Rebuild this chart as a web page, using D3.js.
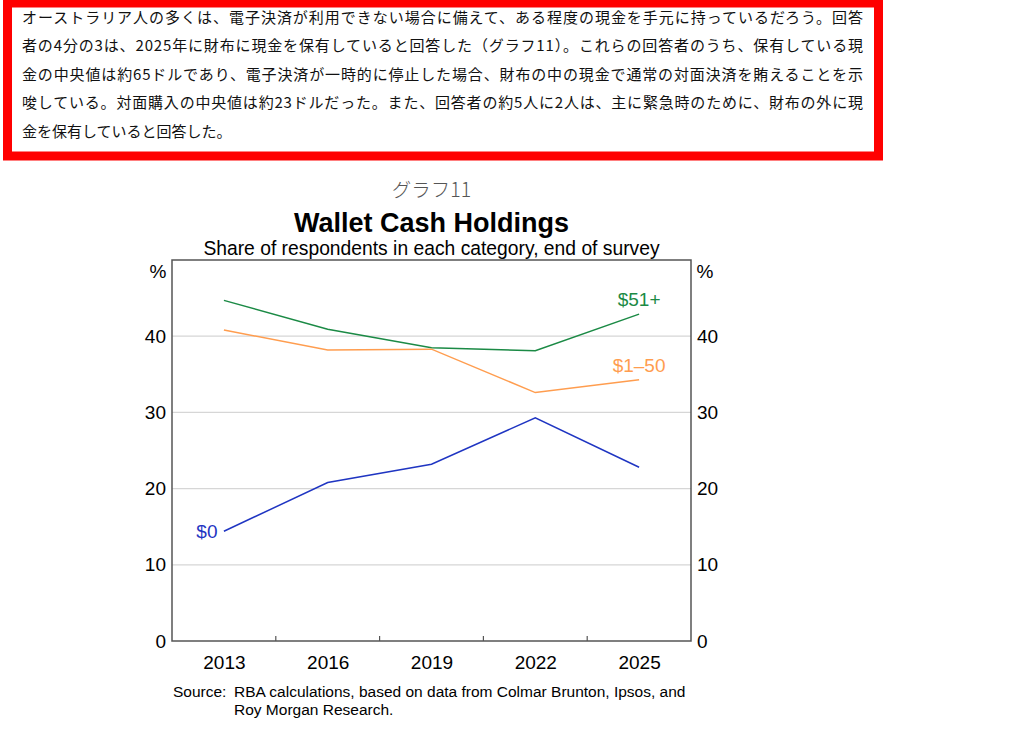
<!DOCTYPE html>
<html lang="ja">
    <head>
        <meta charset="UTF-8" />
        <title>Wallet Cash Holdings</title>
        <script src="https://d3js.org/d3.v7.min.js"></script>
        <style>
            body {
                margin: 0;
                background: #fff;
            }
            svg text {
                font-family: 'Liberation Sans', Arial, sans-serif;
            }
            .jp {
                font-family: 'Noto Sans CJK JP', sans-serif !important;
            }
        </style>
    </head>
    <body>
        <svg width="1024" height="729"></svg>

        <script>
            // intro paragraph, one entry per printed line
            const introLines = [
                'オーストラリア人の多くは、電子決済が利用できない場合に備えて、ある程度の現金を手元に持っているだろう。回答',
                '者の4分の3は、2025年に財布に現金を保有していると回答した（グラフ11）。これらの回答者のうち、保有している現',
                '金の中央値は約65ドルであり、電子決済が一時的に停止した場合、財布の中の現金で通常の対面決済を賄えることを示',
                '唆している。対面購入の中央値は約23ドルだった。また、回答者の約5人に2人は、主に緊急時のために、財布の外に現',
                '金を保有していると回答した。',
            ];

            const years = ['2013', '2016', '2019', '2022', '2025'];
            const over50 = [44.7, 40.9, 38.5, 38.1, 42.9];
            const upTo50 = [40.8, 38.2, 38.3, 32.6, 34.3];
            const none = [14.4, 20.8, 23.2, 29.3, 22.8];
            const yTicks = [0, 10, 20, 30, 40];

            const series = [
                { name: '$51+', values: over50, color: '#1b8a45', labelAt: 4, dy: -8 },
                { name: '$1–50', values: upTo50, color: '#ff9d4f', labelAt: 4, dy: -8 },
                { name: '$0', values: none, color: '#1f35c2', labelAt: 0, dx: -17, dy: 7 },
            ];

            const svg = d3.select('svg');
            const fs = 19;

            // red-framed text box
            svg.append('rect')
                .attr('x', 7.5)
                .attr('y', 3)
                .attr('width', 871)
                .attr('height', 153)
                .attr('fill', 'none')
                .attr('stroke', '#ff0000')
                .attr('stroke-width', 9);

            svg.selectAll('.intro')
                .data(introLines)
                .enter()
                .append('text')
                .attr('class', 'intro jp')
                .attr('x', 22)
                .attr('y', (d, i) => 23 + i * 28.4)
                .attr('font-size', 15)
                .attr('fill', '#111')
                .attr('textLength', (d, i) => (i < introLines.length - 1 ? 841 : null))
                .attr('lengthAdjust', 'spacing')
                .text((d) => d);

            const margin = { top: 260, left: 172, right: 333, bottom: 88 },
                width = 1024 - margin.left - margin.right,
                height = 729 - margin.top - margin.bottom;
            const cx = margin.left + width / 2;

            svg.append('text')
                .attr('class', 'jp')
                .attr('x', cx)
                .attr('y', 197)
                .attr('text-anchor', 'middle')
                .attr('font-size', 19.5)
                .attr('font-weight', 300)
                .attr('fill', '#555')
                .text('グラフ11');

            svg.append('text')
                .attr('x', cx)
                .attr('y', 232)
                .attr('text-anchor', 'middle')
                .attr('font-size', 27)
                .attr('font-weight', 'bold')
                .text('Wallet Cash Holdings');

            svg.append('text')
                .attr('x', cx)
                .attr('y', 255)
                .attr('text-anchor', 'middle')
                .attr('font-size', 19.3)
                .text('Share of respondents in each category, end of survey');

            const g = svg.append('g').attr('transform', `translate(${margin.left},${margin.top})`);

            const x = d3.scalePoint().domain(years).range([0, width]).padding(0.5);
            const xBand = d3.scaleBand().domain(years).range([0, width]);
            const y = d3.scaleLinear().domain([0, 50]).range([height, 0]);

            // gridlines
            g.selectAll('.grid')
                .data(yTicks.filter((t) => t > 0))
                .enter()
                .append('line')
                .attr('x1', 0)
                .attr('x2', width)
                .attr('y1', (d) => y(d))
                .attr('y2', (d) => y(d))
                .attr('stroke', '#d6d6d6')
                .attr('stroke-width', 1.2);

            // y axes both sides
            const yLeft = g.append('g').call(d3.axisLeft(y).tickValues(yTicks).tickSize(0).tickPadding(6));
            const yRight = g
                .append('g')
                .attr('transform', `translate(${width},0)`)
                .call(d3.axisRight(y).tickValues(yTicks).tickSize(0).tickPadding(6));
            [yLeft, yRight].forEach((ax) => {
                ax.select('.domain').remove();
                ax.selectAll('text').attr('font-size', fs).attr('fill', '#000').style('font-family', 'Liberation Sans, Arial, sans-serif');
            });

            svg.append('text').attr('x', 158).attr('y', 278).attr('text-anchor', 'middle').attr('font-size', fs).text('%');
            svg.append('text').attr('x', 705).attr('y', 278).attr('text-anchor', 'middle').attr('font-size', fs).text('%');

            // x axis labels
            const xAxis = g
                .append('g')
                .attr('transform', `translate(0,${height})`)
                .call(d3.axisBottom(x).tickSize(0).tickPadding(15));
            xAxis.select('.domain').remove();
            xAxis.selectAll('text').attr('font-size', fs).attr('fill', '#000').style('font-family', 'Liberation Sans, Arial, sans-serif');

            // small ticks at category boundaries
            g.selectAll('.xtick')
                .data(years.slice(1))
                .enter()
                .append('line')
                .attr('x1', (d) => xBand(d))
                .attr('x2', (d) => xBand(d))
                .attr('y1', height)
                .attr('y2', height - 5)
                .attr('stroke', '#555')
                .attr('stroke-width', 1.2);

            // frame
            g.append('rect')
                .attr('width', width)
                .attr('height', height)
                .attr('fill', 'none')
                .attr('stroke', '#555')
                .attr('stroke-width', 1.5);

            const line = d3
                .line()
                .x((d, i) => x(years[i]))
                .y((d) => y(d));

            series.forEach((s) => {
                g.append('path')
                    .attr('d', line(s.values))
                    .attr('fill', 'none')
                    .attr('stroke', s.color)
                    .attr('stroke-width', 1.5);

                g.append('text')
                    .attr('x', x(years[s.labelAt]) + (s.dx || 0))
                    .attr('y', y(s.values[s.labelAt]) + s.dy)
                    .attr('text-anchor', 'middle')
                    .attr('font-size', fs)
                    .attr('fill', s.color)
                    .text(s.name);
            });

            // source note
            svg.append('text').attr('x', 173).attr('y', 697).attr('font-size', 15.5).text('Source:');
            svg.append('text')
                .attr('x', 234)
                .attr('y', 697)
                .attr('font-size', 15.5)
                .text('RBA calculations, based on data from Colmar Brunton, Ipsos, and');
            svg.append('text').attr('x', 234).attr('y', 715).attr('font-size', 15.5).text('Roy Morgan Research.');
        </script>
    </body>
</html>
